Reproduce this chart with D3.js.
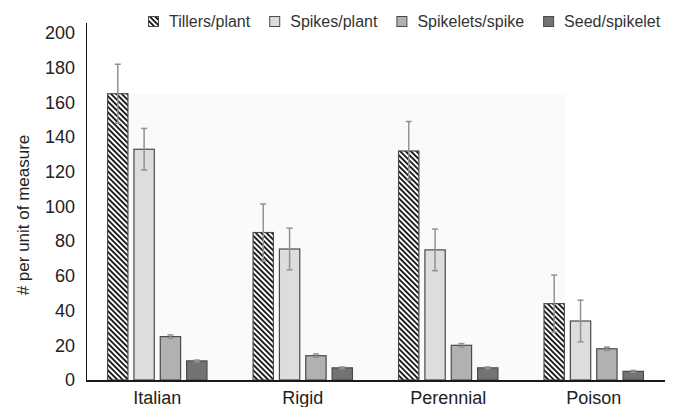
<!DOCTYPE html>
<html>
<head>
<meta charset="utf-8">
<script src="https://cdn.jsdelivr.net/npm/d3@7"></script>
<style>
  html, body { margin: 0; padding: 0; background: #fff; }
  svg { display: block; font-family: "Liberation Sans", Arial, Helvetica, sans-serif; }
</style>
</head>
<body>
<svg id="chart" width="673" height="407"></svg>
<script>
// Ryegrass species and yield components
const categories = ["Italian", "Rigid", "Perennial", "Poison"];
const seriesNames = ["Tillers/plant", "Spikes/plant", "Spikelets/spike", "Seed/spikelet"];

// Means per species, one array per component
const tillers   = [165, 85, 132, 44];
const spikes    = [133, 75.5, 75, 34];
const spikelets = [25, 14, 20, 18];
const seeds     = [11, 7, 7, 5];

// Error (± half-range) per species, one array per component
const tillersErr   = [17, 16.5, 17, 16.5];
const spikesErr    = [12, 12, 12, 12];
const spikeletsErr = [1, 1, 1, 1];
const seedsErr     = [0.5, 0.5, 0.5, 0.5];

const yTicks = [0, 20, 40, 60, 80, 100, 120, 140, 160, 180, 200];

const values = [tillers, spikes, spikelets, seeds];
const errors = [tillersErr, spikesErr, spikeletsErr, seedsErr];

const svg = d3.select("#chart");
const plotLeft = 86, plotRight = 665, plotTop = 33, plotBottom = 380;

const y = d3.scaleLinear().domain([0, 200]).range([plotBottom, plotTop]);
const x0 = d3.scaleBand().domain(categories).range([plotLeft, plotRight])
  .paddingInner(0.31).paddingOuter(0.145);
const x1 = d3.scaleBand().domain(seriesNames).range([0, x0.bandwidth()])
  .paddingInner(0.19);

// hatch pattern for tillers
const defs = svg.append("defs");
const pat = defs.append("pattern")
  .attr("id", "hatch")
  .attr("patternUnits", "userSpaceOnUse")
  .attr("width", 3.8).attr("height", 3.8)
  .attr("patternTransform", "rotate(-45)");
pat.append("rect").attr("width", 3.8).attr("height", 3.8).attr("fill", "#fff");
pat.append("line").attr("x1", 0.95).attr("y1", 0).attr("x2", 0.95).attr("y2", 3.8)
  .attr("stroke", "#1e1e1e").attr("stroke-width", 1.9);

const fills = {
  "Tillers/plant": "url(#hatch)",
  "Spikes/plant": "#dcdddf",
  "Spikelets/spike": "#b1b1b1",
  "Seed/spikelet": "#737373"
};

// faint plot-area wash
svg.append("rect")
  .attr("x", x0("Italian"))
  .attr("y", y(d3.max(tillers)))
  .attr("width", x0("Poison") + x1.bandwidth() - x0("Italian"))
  .attr("height", y(0) - y(d3.max(tillers)))
  .attr("fill", "#fafafa");

// bars
const groups = svg.append("g").selectAll("g")
  .data(categories)
  .join("g")
  .attr("transform", d => `translate(${x0(d)},0)`);

const rows = (c, ci) => seriesNames.map((s, si) => ({ s, v: values[si][ci], e: errors[si][ci] }));

groups.selectAll("rect")
  .data(rows)
  .join("rect")
  .attr("x", d => x1(d.s) + 0.5)
  .attr("y", d => y(d.v))
  .attr("width", x1.bandwidth() - 1)
  .attr("height", d => y(0) - y(d.v))
  .attr("fill", d => fills[d.s])
  .attr("stroke", "#4a4a4a")
  .attr("stroke-width", 1.2);

// error bars
const eb = groups.selectAll("g.err")
  .data(rows)
  .join("g").attr("class", "err")
  .attr("stroke", "#929292").attr("stroke-width", 1.5);
eb.append("line")
  .attr("x1", d => x1(d.s) + x1.bandwidth() / 2)
  .attr("x2", d => x1(d.s) + x1.bandwidth() / 2)
  .attr("y1", d => y(d.v + d.e))
  .attr("y2", d => y(d.v - d.e));
[1, -1].forEach(sign => {
  eb.append("line")
    .attr("x1", d => x1(d.s) + x1.bandwidth() / 2 - 3)
    .attr("x2", d => x1(d.s) + x1.bandwidth() / 2 + 3)
    .attr("y1", d => y(d.v + sign * d.e))
    .attr("y2", d => y(d.v + sign * d.e));
});

// y axis
const yAxis = svg.append("g")
  .attr("transform", `translate(${plotLeft},0)`)
  .call(d3.axisLeft(y).tickValues(yTicks).tickSize(0).tickPadding(11));
yAxis.select(".domain").remove();
yAxis.selectAll("text").attr("font-size", 18).attr("fill", "#222")
  .attr("font-family", "Liberation Sans, Arial, sans-serif");
svg.append("line")
  .attr("x1", plotLeft + 0.5).attr("x2", plotLeft + 0.5)
  .attr("y1", 23).attr("y2", plotBottom + 1)
  .attr("stroke", "#111").attr("stroke-width", 1);

// x axis
const xAxis = svg.append("g")
  .attr("transform", `translate(0,${plotBottom})`)
  .call(d3.axisBottom(x0).tickSize(0).tickPadding(11));
xAxis.select(".domain").remove();
xAxis.selectAll("text").attr("font-size", 18).attr("fill", "#222")
  .attr("font-family", "Liberation Sans, Arial, sans-serif");
svg.append("line")
  .attr("x1", plotLeft).attr("x2", plotRight)
  .attr("y1", plotBottom + 1).attr("y2", plotBottom + 1)
  .attr("stroke", "#1a1a1a").attr("stroke-width", 2.2);

// y title
svg.append("text")
  .attr("transform", "translate(29,215) rotate(-90)")
  .attr("text-anchor", "middle")
  .attr("font-size", 17)
  .attr("fill", "#222")
  .text("# per unit of measure");

// legend
const legend = svg.append("g").attr("transform", "translate(148,0)");
let lx = 0;
seriesNames.forEach(s => {
  const item = legend.append("g").attr("transform", `translate(${lx},0)`);
  item.append("rect")
    .attr("x", 0.5).attr("y", 16.5).attr("width", 10).attr("height", 10)
    .attr("fill", fills[s]).attr("stroke", "#4a4a4a").attr("stroke-width", 1);
  const t = item.append("text")
    .attr("x", 21).attr("y", 27)
    .attr("font-size", 16).attr("fill", "#333")
    .text(s);
  lx += 21 + t.node().getComputedTextLength() + 19;
});
</script>
</body>
</html>
